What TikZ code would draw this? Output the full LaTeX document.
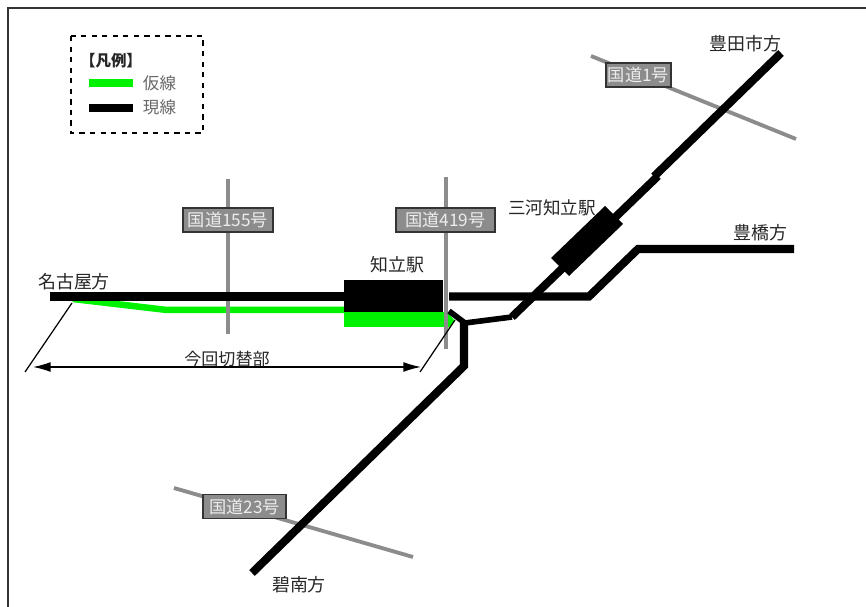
\documentclass[tikz,border=0pt]{standalone}
\usepackage{fontspec}
\setmainfont{Noto Sans CJK JP}
\usepackage{tikz}
\usetikzlibrary{arrows.meta}
\definecolor{tagtext}{gray}{0.93}
\tikzset{
  track/.style={line width=4.6pt,black},
  tracksm/.style={line width=3.2pt,black},
  temp/.style={line width=3.7pt,green!95!black},
  road/.style={line width=2.2pt,black!45},
  roadtag/.style={draw=black!80,line width=0.9pt,fill=black!45,text=tagtext,font=\fontsize{9.8}{10}\selectfont,inner sep=0pt,minimum height=0.48cm},
  lbl/.style={font=\fontsize{10.2}{11}\selectfont,text=black!85,inner sep=0pt},
  leglbl/.style={font=\fontsize{9.4}{11}\selectfont,text=black!60,inner sep=0pt},
  span/.style={line width=0.7pt,black},
}
\begin{document}
\begin{tikzpicture}[x=0.02cm,y=-0.02cm]
\useasboundingbox (0,0) rectangle (866,607);

% frame
\draw[line width=1pt,black!80] (8,607) -- (8,8) -- (866,8);

% legend
\draw[dashed,line width=0.9pt] (71,36) rectangle (203,133);
\node[lbl,font=\fontsize{8.8}{10}\selectfont\bfseries] (title) at (111,61) {【凡例】};
\coordinate (leg1a) at (89,83);
\coordinate (leg1b) at (133,83);
\coordinate (leg2a) at (89,108);
\coordinate (leg2b) at (133,108);
\draw[temp,line width=4.4pt] (leg1a) -- (leg1b);
\draw[track] (leg2a) -- (leg2b);
\node[leglbl] (kasen) at (159.5,83) {仮線};
\node[leglbl] (gensen) at (159.5,107) {現線};

% temporary line
\fill[green!95!black] (344,312) rectangle (444,327.5);
\fill[green!95!black] (444,312) -- (449,314) -- (455,321) -- (449,327.5) -- (444,327.5) -- cycle;
\draw[temp] (73,299) -- (167,310) -- (344,310);

% roads
\draw[road] (228,179) -- (228,334);
\draw[road] (446,177) -- (446,349);
\draw[road] (591,56) -- (796,139);
\draw[road] (174,488) -- (413,557);

% main lines
\draw[track] (50,296.5) -- (344,296.5);
\fill[black] (343.5,280) rectangle (443,312);
\draw[track] (449,296.5) -- (589,296.5) -- (638,249) -- (794,249);
\draw[track] (512,317) -- (658,176);
\draw[track] (654,176.5) -- (781,53);
\draw[tracksm] (449,311) -- (465,323) -- (512,317);
\draw[track] (464,322) -- (464,366) -- (252,573);

% Mikawa-Chiryu station
\fill[black] (605,206) -- (623,224) -- (569,276) -- (551,258) -- cycle;

% road tags
\node[roadtag,minimum width=1.8cm] (r155) at (228,220) {国道155号};
\node[roadtag,minimum width=1.98cm] (r419) at (445.5,220) {国道419号};
\node[roadtag,minimum width=1.3cm] (r1) at (638.5,75) {国道1号};
\node[roadtag,minimum width=1.66cm] (r23) at (244.5,506.5) {国道23号};

% span
\coordinate (sl1) at (72,303);
\coordinate (sl2) at (25,372);
\coordinate (sr1) at (455,320);
\coordinate (sr2) at (420,372);
\coordinate (al) at (33,367);
\coordinate (ar) at (421,367);
\draw[span] (sl1) -- (sl2);
\draw[span] (sr1) -- (sr2);
\draw[span,{Latex[length=10pt,width=5.6pt]}-{Latex[length=10pt,width=5.6pt]}] (al) -- (ar);
\node[lbl,font=\fontsize{9.7}{11}\selectfont] (kiri) at (227,359) {今回切替部};

% labels
\node[lbl] (nagoya) at (74,282) {名古屋方};
\node[lbl] (chiryu) at (397.5,265) {知立駅};
\node[lbl,font=\fontsize{10}{11}\selectfont] (mikawa) at (552,208) {三河知立駅};
\node[lbl] (toyota) at (745.5,44) {豊田市方};
\node[lbl] (toyohashi) at (760.5,233) {豊橋方};
\node[lbl] (hekinan) at (299,585) {碧南方};
\end{tikzpicture}
\end{document}
